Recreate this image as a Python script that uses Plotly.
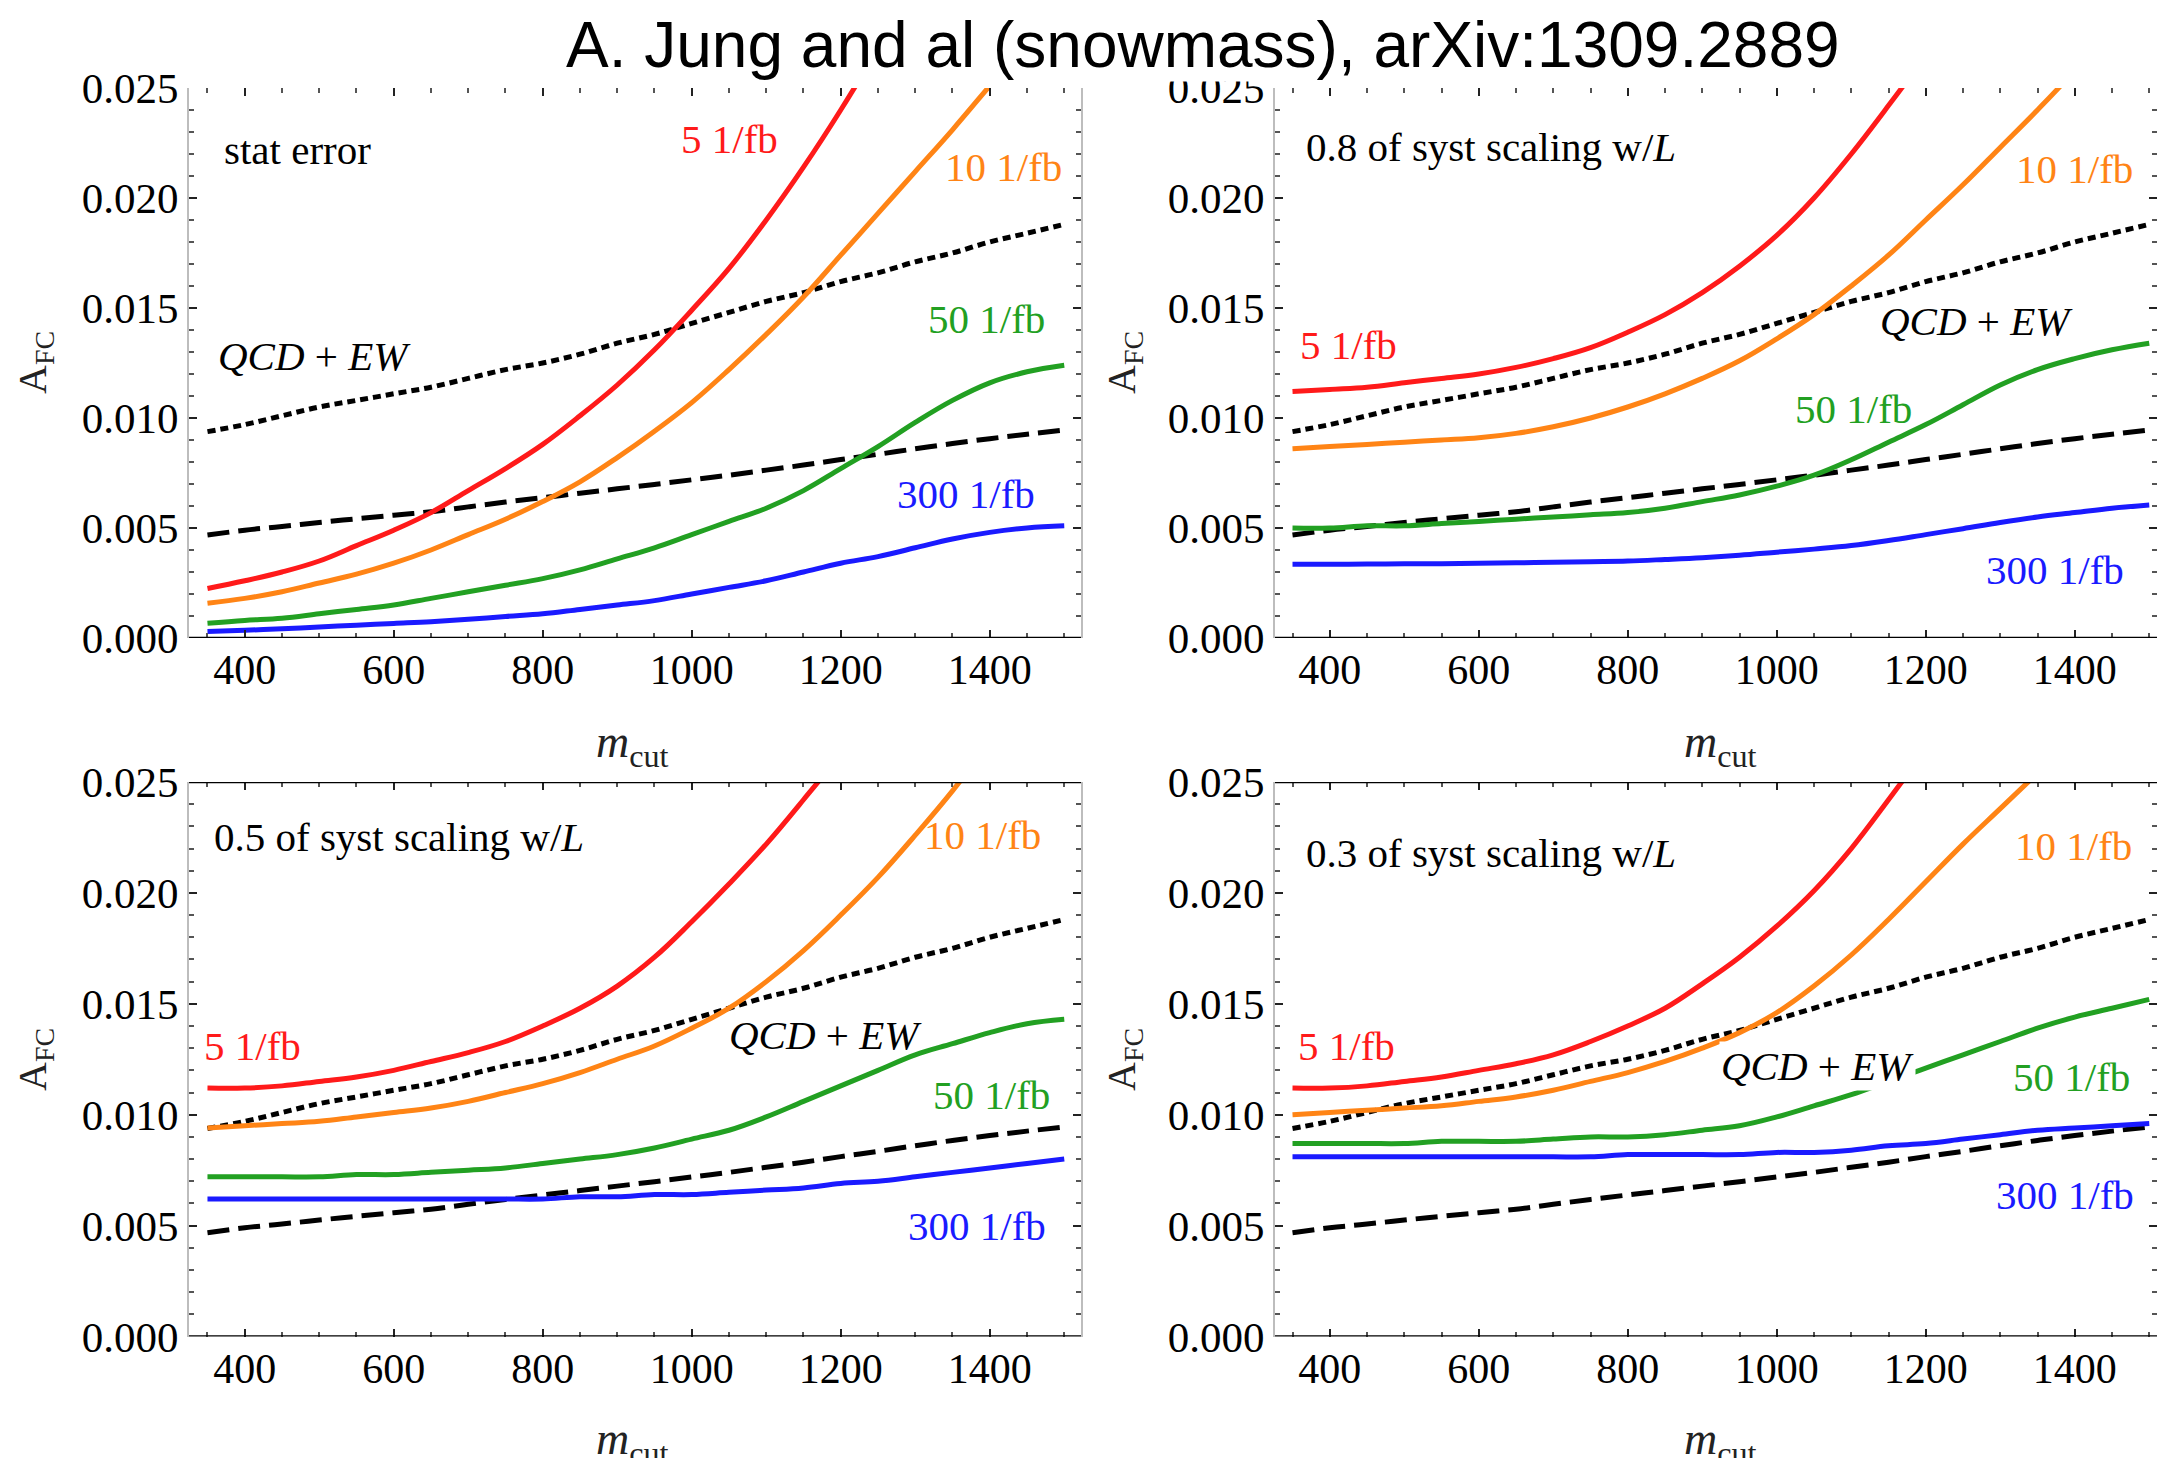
import plotly.graph_objects as go

# m_cut grid (GeV) shared by every curve
m_cut = [350, 400, 450, 500, 550, 600, 650, 700, 750, 800, 850, 900, 950, 1000,
         1050, 1100, 1150, 1200, 1250, 1300, 1350, 1400, 1450, 1500]

# QCD + EW predictions (the two black reference lines)
qcd_ew_dotted = [0.00938, 0.0097, 0.0101, 0.0105, 0.0108, 0.0111, 0.0114, 0.0118,
                 0.0122, 0.0125, 0.0129, 0.0134, 0.0138, 0.0143, 0.0148, 0.0153,
                 0.0157, 0.0162, 0.0166, 0.0171, 0.0175, 0.0180, 0.0184, 0.0188]
qcd_ew_dashed = [0.00468, 0.0049, 0.00507, 0.00525, 0.00542, 0.00558, 0.00574, 0.00596,
                 0.00618, 0.00638, 0.00658, 0.00678, 0.00698, 0.00719, 0.0074, 0.00763,
                 0.00786, 0.00811, 0.00835, 0.0086, 0.00884, 0.00906, 0.00926, 0.00945]

# Panel 1: statistical error only
stat_5 = [0.00225, 0.0026, 0.0030, 0.0035, 0.0042, 0.0049, 0.0057, 0.0067, 0.0077, 0.0088,
          0.0101, 0.0115, 0.0131, 0.0149, 0.0168, 0.0190, 0.0214, 0.0240, 0.0268, 0.0298,
          0.0330, 0.0365, 0.0400, 0.0440]
stat_10 = [0.00158, 0.0018, 0.0021, 0.0025, 0.0029, 0.0034, 0.0040, 0.0047, 0.0054, 0.0062,
           0.0071, 0.0082, 0.0094, 0.0107, 0.0122, 0.0138, 0.0155, 0.0174, 0.0193, 0.0212,
           0.0231, 0.0251, 0.0271, 0.0291]
stat_50 = [0.00067, 0.0008, 0.0009, 0.0011, 0.0013, 0.0015, 0.0018, 0.0021, 0.0024, 0.0027,
           0.0031, 0.0036, 0.0041, 0.0047, 0.0053, 0.0059, 0.0067, 0.0077, 0.0087, 0.0098,
           0.0108, 0.0116, 0.0121, 0.0124]
stat_300 = [0.00029, 0.00035, 0.00042, 0.0005, 0.00058, 0.00066, 0.00074, 0.00085, 0.00098,
            0.0011, 0.0013, 0.0015, 0.0017, 0.0020, 0.0023, 0.0026, 0.0030, 0.0034, 0.0037,
            0.0041, 0.0045, 0.0048, 0.0050, 0.0051]

# Panel 2: 0.8 of systematics scaling with L
s08_5 = [0.0112, 0.0113, 0.0114, 0.0116, 0.0118, 0.0120, 0.0123, 0.0127, 0.0132, 0.0139,
         0.0147, 0.0157, 0.0169, 0.0183, 0.0200, 0.0220, 0.0242, 0.0265, 0.0290, 0.0318,
         0.0348, 0.0380, 0.0415, 0.0450]
s08_10 = [0.0086, 0.0087, 0.0088, 0.0089, 0.0090, 0.0091, 0.0093, 0.0096, 0.0100, 0.0105,
          0.0111, 0.0118, 0.0126, 0.0136, 0.0147, 0.0160, 0.0174, 0.0190, 0.0206, 0.0223,
          0.0240, 0.0258, 0.0278, 0.0298]
s08_50 = [0.0050, 0.0050, 0.0051, 0.0051, 0.0052, 0.0053, 0.0054, 0.0055, 0.0056, 0.0057,
          0.0059, 0.0062, 0.0065, 0.0069, 0.0074, 0.0081, 0.0089, 0.0097, 0.0106, 0.0115,
          0.0122, 0.0127, 0.0131, 0.0134]
s08_300 = [0.00335, 0.00335, 0.00336, 0.00337, 0.00338, 0.0034, 0.00342, 0.00344, 0.00347,
           0.0035, 0.00357, 0.00365, 0.00376, 0.0039, 0.00404, 0.0042, 0.00443, 0.0047,
           0.00497, 0.00525, 0.0055, 0.0057, 0.0059, 0.00605]

# Panel 3: 0.5 of systematics scaling with L
s05_5 = [0.0112, 0.0112, 0.0113, 0.0115, 0.0117, 0.0120, 0.0124, 0.0128, 0.0133, 0.0140,
         0.0148, 0.0158, 0.0171, 0.0187, 0.0204, 0.0222, 0.0242, 0.0263, 0.0288, 0.0315,
         0.0345, 0.0378, 0.0412, 0.0448]
s05_10 = [0.0094, 0.0095, 0.0096, 0.0097, 0.0099, 0.0101, 0.0103, 0.0106, 0.0110, 0.0114,
          0.0119, 0.0125, 0.0131, 0.0139, 0.0148, 0.0160, 0.0174, 0.0190, 0.0207, 0.0226,
          0.0246, 0.0268, 0.0290, 0.0312]
s05_50 = [0.0072, 0.0072, 0.0072, 0.0072, 0.0073, 0.0073, 0.0074, 0.0075, 0.0076, 0.0078,
          0.0080, 0.0082, 0.0085, 0.0089, 0.0093, 0.0099, 0.0106, 0.0113, 0.0120, 0.0127,
          0.0132, 0.0137, 0.0141, 0.0143]
s05_300 = [0.0062, 0.0062, 0.0062, 0.0062, 0.0062, 0.0062, 0.0062, 0.0062, 0.0062, 0.0062,
           0.0063, 0.0063, 0.0064, 0.0064, 0.0065, 0.0066, 0.0067, 0.0069, 0.0070, 0.0072,
           0.0074, 0.0076, 0.0078, 0.0080]

# Panel 4: 0.3 of systematics scaling with L
s03_5 = [0.0112, 0.0112, 0.0113, 0.0115, 0.0117, 0.0120, 0.0123, 0.0127, 0.0133, 0.0140,
         0.0148, 0.0159, 0.0171, 0.0185, 0.0201, 0.0220, 0.0242, 0.0265, 0.0290, 0.0318,
         0.0348, 0.0380, 0.0415, 0.0450]
s03_10 = [0.0100, 0.0101, 0.0102, 0.0103, 0.0104, 0.0106, 0.0108, 0.0111, 0.0115, 0.0119,
          0.0124, 0.0130, 0.0137, 0.0146, 0.0158, 0.0172, 0.0188, 0.0205, 0.0222, 0.0238,
          0.0254, 0.0270, 0.0288, 0.0306]
s03_50 = [0.0087, 0.0087, 0.0087, 0.0087, 0.0088, 0.0088, 0.0088, 0.0089, 0.0090, 0.0090,
          0.0091, 0.0093, 0.0095, 0.0099, 0.0104, 0.0109, 0.0115, 0.0121, 0.0127, 0.0133,
          0.0139, 0.0144, 0.0148, 0.0152]
s03_300 = [0.0081, 0.0081, 0.0081, 0.0081, 0.0081, 0.0081, 0.0081, 0.0081, 0.0081, 0.0082,
           0.0082, 0.0082, 0.0082, 0.0083, 0.0083, 0.0084, 0.0086, 0.0087, 0.0089, 0.0091,
           0.0093, 0.0094, 0.0095, 0.0096]

lumi_labels = ["5 1/fb", "10 1/fb", "50 1/fb", "300 1/fb"]
lumi_colors = ["#ff1a1a", "#ff8415", "#22a022", "#1a1aff"]
panel_titles = ["stat error", "0.8 of syst scaling w/<i>L</i>",
                "0.5 of syst scaling w/<i>L</i>", "0.3 of syst scaling w/<i>L</i>"]
panel_curves = [
    [stat_5, stat_10, stat_50, stat_300],
    [s08_5, s08_10, s08_50, s08_300],
    [s05_5, s05_10, s05_50, s05_300],
    [s03_5, s03_10, s03_50, s03_300],
]

# label anchor points (m_cut, A_FC) per panel: 5, 10, 50, 300, QCD+EW, panel title
label_pos = [
    [(1051, 0.0227), (1418, 0.0214), (1396, 0.0145), (1368, 0.00655), (494, 0.0128), (369, 0.0222)],
    [(425, 0.0133), (1400, 0.0213), (1103, 0.0104), (1373, 0.0031), (1268, 0.0144), (365, 0.0223)],
    [(410, 0.0131), (1390, 0.0226), (1402, 0.0109), (1383, 0.0050), (1180, 0.0136), (356, 0.0225)],
    [(423, 0.0131), (1398, 0.0221), (1396, 0.0117), (1387, 0.0064), (1055, 0.0122), (365, 0.0218)],
]

W, H = 2157, 1458
SERIF = "Liberation Serif"

x_domains = [[189 / W, 1081 / W], [1275 / W, 1.0], [189 / W, 1081 / W], [1275 / W, 1.0]]
x_ranges = [[325.2, 1522.5], [326.5, 1510.4], [325.2, 1522.5], [326.5, 1510.4]]
y_domains = [[1 - 638 / H, 1 - 88 / H], [1 - 638 / H, 1 - 88 / H],
             [1 - 1336.5 / H, 1 - 782 / H], [1 - 1336.5 / H, 1 - 782 / H]]

fig = go.Figure()
layout = dict(
    width=W, height=H, autosize=False,
    margin=dict(l=0, r=0, t=0, b=0, pad=0, autoexpand=False),
    paper_bgcolor="white", plot_bgcolor="white", showlegend=False,
    annotations=[], shapes=[],
)

for p in range(4):
    sfx = "" if p == 0 else str(p + 1)
    xa, ya = "x" + sfx, "y" + sfx

    layout["xaxis" + sfx] = dict(
        domain=x_domains[p], range=x_ranges[p], anchor=ya, automargin=False,
        showline=True, linecolor="rgba(0,0,0,0)", mirror="ticks",
        ticks="inside", ticklen=8, tickwidth=2, tickcolor="#222",
        tick0=400, dtick=200, ticklabelstandoff=-5,
        tickfont=dict(family=SERIF, size=42, color="black"),
        minor=dict(dtick=50, ticks="inside", ticklen=5, tickwidth=1.5,
                   tickcolor="#555", showgrid=False),
        showgrid=False, zeroline=False,
    )
    layout["yaxis" + sfx] = dict(
        domain=y_domains[p], range=[0, 0.025], anchor=xa, automargin=False,
        showline=True, linecolor="#bdbdbd", linewidth=2, mirror="ticks",
        ticks="inside", ticklen=8, tickwidth=2, tickcolor="#222",
        tick0=0, dtick=0.005, tickformat=".3f", ticklabelstandoff=0,
        tickfont=dict(family=SERIF, size=43, color="black"),
        minor=dict(dtick=0.001, ticks="inside", ticklen=5, tickwidth=1.5,
                   tickcolor="#555", showgrid=False),
        showgrid=False, zeroline=False,
    )

    # bottom frame in black; the lower panels also carry a black top frame
    layout["shapes"].append(dict(type="line", xref=xa + " domain", yref=ya,
                                 x0=0, x1=1, y0=0, y1=0,
                                 line=dict(color="black", width=2.5)))
    if p >= 2:
        layout["shapes"].append(dict(type="line", xref=xa + " domain", yref=ya,
                                     x0=0, x1=1, y0=0.025, y1=0.025,
                                     line=dict(color="black", width=2.5)))

    # QCD + EW reference lines
    fig.add_trace(go.Scatter(x=m_cut, y=qcd_ew_dotted, mode="lines", xaxis=xa, yaxis=ya,
                             line=dict(color="black", width=5, dash="8px,5px",
                                       shape="spline", smoothing=1.0),
                             hoverinfo="skip"))
    fig.add_trace(go.Scatter(x=m_cut, y=qcd_ew_dashed, mode="lines", xaxis=xa, yaxis=ya,
                             line=dict(color="black", width=5, dash="22px,9px",
                                       shape="spline", smoothing=1.0),
                             hoverinfo="skip"))

    # sensitivity curves for each integrated luminosity
    for k, ys in enumerate(panel_curves[p]):
        fig.add_trace(go.Scatter(x=m_cut, y=ys, mode="lines", xaxis=xa, yaxis=ya,
                                 line=dict(color=lumi_colors[k], width=5,
                                           shape="spline", smoothing=1.1),
                                 name=lumi_labels[k], hoverinfo="skip"))

    # in-panel text labels
    for k in range(4):
        lx, ly = label_pos[p][k]
        layout["annotations"].append(dict(
            x=lx, y=ly, xref=xa, yref=ya, text=lumi_labels[k], showarrow=False,
            xanchor="center", yanchor="middle",
            font=dict(family=SERIF, size=41, color=lumi_colors[k])))
    qx, qy = label_pos[p][4]
    layout["annotations"].append(dict(
        x=qx, y=qy, xref=xa, yref=ya, text="<i>QCD</i> + <i>EW</i>", showarrow=False,
        xanchor="center", yanchor="middle",
        bgcolor="white" if p == 3 else "rgba(0,0,0,0)",
        font=dict(family=SERIF, size=41, color="black")))
    tx, ty = label_pos[p][5]
    layout["annotations"].append(dict(
        x=tx, y=ty, xref=xa, yref=ya, text=panel_titles[p], showarrow=False,
        xanchor="left", yanchor="middle",
        font=dict(family=SERIF, size=41, color="black")))

# axis titles
y_title_x = [35 / W, 1124 / W, 35 / W, 1124 / W]
y_title_y = [1 - 363 / H, 1 - 363 / H, 1 - 1060 / H, 1 - 1060 / H]
x_title_x = [632 / W, 1720 / W, 632 / W, 1720 / W]
x_title_y = [1 - 745 / H, 1 - 745 / H, 1 - 1442 / H, 1 - 1442 / H]
for p in range(4):
    layout["annotations"].append(dict(
        x=y_title_x[p], y=y_title_y[p], xref="paper", yref="paper",
        text="A<sub>FC</sub>", textangle=-90, showarrow=False,
        xanchor="center", yanchor="middle",
        font=dict(family=SERIF, size=40, color="#222")))
    layout["annotations"].append(dict(
        x=x_title_x[p], y=x_title_y[p], xref="paper", yref="paper",
        text="<i>m</i><sub>cut</sub>", showarrow=False,
        xanchor="center", yanchor="middle",
        font=dict(family=SERIF, size=46, color="#222")))

# figure title, on a white box laid over the top of the upper panels
layout["annotations"].append(dict(
    x=1203 / W, y=1 - 45 / H, xref="paper", yref="paper",
    text="A. Jung and al (snowmass), arXiv:1309.2889", showarrow=False,
    xanchor="center", yanchor="middle", bgcolor="white", borderpad=0,
    font=dict(family="Liberation Sans", size=64, color="black")))

fig.update_layout(**layout)
fig.write_html("out.html")
